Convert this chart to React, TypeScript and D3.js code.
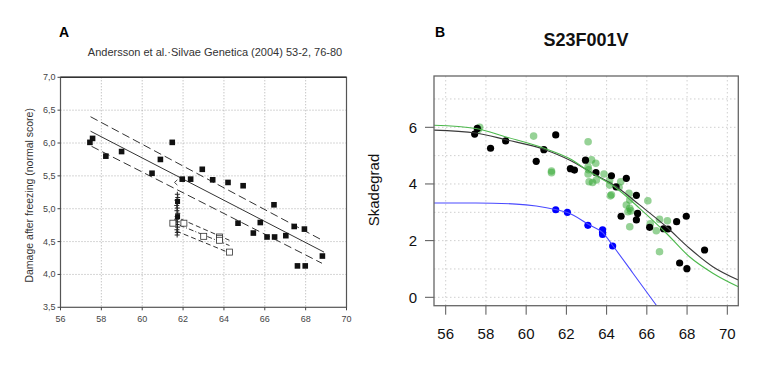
import React, { useRef, useEffect } from 'react';
import * as d3 from 'd3';

// ---- Panel A (scanned figure, Andersson et al.) ----
const aTicksX = [56, 58, 60, 62, 64, 66, 68, 70];
const aTicksY = [3.5, 4.0, 4.5, 5.0, 5.5, 6.0, 6.5, 7.0];

// filled squares
const aBlackX = [57.44, 57.57, 58.22, 58.99, 60.48, 60.89, 61.47, 61.96, 62.37, 62.94, 63.45, 64.2, 64.94,
  66.45, 64.69, 65.78, 65.44, 66.11, 66.48, 67.03, 67.44, 67.94, 68.82, 67.6, 67.98];
const aBlackY = [6.01, 6.07, 5.8, 5.87, 5.54, 5.75, 6.01, 5.45, 5.45, 5.6, 5.44, 5.4, 5.35,
  5.06, 4.78, 4.79, 4.63, 4.57, 4.57, 4.59, 4.73, 4.69, 4.28, 4.13, 4.13];

// open squares
const aOpenX = [61.5, 62.04, 63.01, 63.78, 63.78, 63.78, 64.27];
const aOpenY = [4.78, 4.78, 4.58, 4.57, 4.55, 4.52, 4.34];

// plus markers (stacked column)
const aPlusX = [61.72, 61.74, 61.7, 61.73, 61.69, 61.72, 61.7, 61.74, 61.71, 61.69, 61.72, 61.7, 61.73, 61.7, 61.72, 61.71];
const aPlusY = [5.22, 5.17, 5.13, 5.09, 5.05, 5.01, 4.97, 4.93, 4.88, 4.84, 4.8, 4.76, 4.72, 4.68, 4.64, 4.6];
const aClusterSqX = [61.73, 61.73];
const aClusterSqY = [5.11, 4.88];

// regression lines [x1, y1, x2, y2]
const aMainLines = [
  { pts: [57.47, 6.18, 68.9, 4.34], dash: '' },
  { pts: [57.47, 6.4, 68.82, 4.52], dash: '8,4' },
  { pts: [57.52, 5.95, 68.8, 4.17], dash: '8,4' },
];
const aOpenLines = [
  { pts: [61.91, 4.84, 64.27, 4.52], dash: '5,3' },
  { pts: [61.83, 4.75, 64.27, 4.44], dash: '5,2,1,2' },
  { pts: [61.67, 4.66, 64.1, 4.35], dash: '5,3' },
];

// ---- Panel B (S23F001V) ----
const bTicksX = [56, 58, 60, 62, 64, 66, 68, 70];
const bTicksY = [0, 2, 4, 6];
const bGridY = [0, 1, 2, 3, 4, 5, 6, 7];

const bBlackX = [57.44, 57.57, 58.23, 58.98, 60.5, 60.88, 61.47, 62.2, 62.4, 62.95, 63.47, 64.24, 64.98,
  64.47, 65.48, 64.72, 65.54, 65.48, 66.14, 66.83, 67.05, 67.48, 67.96, 68.87, 67.63, 67.99];
const bBlackY = [5.76, 5.96, 5.26, 5.52, 4.8, 5.21, 5.73, 4.54, 4.49, 4.84, 4.4, 4.29, 4.2,
  3.9, 3.6, 2.86, 2.96, 2.73, 2.47, 2.42, 2.41, 2.67, 2.86, 1.67, 1.21, 1.01];

const bGreenX = [57.62, 57.69, 60.37, 61.26, 61.26, 63.08, 63.25, 63.46, 63.08, 63.1, 63.08, 63.49, 63.13,
  63.3, 63.87, 64.15, 64.7, 64.15, 64.62, 65.11, 64.19, 64.24, 66.05, 65.15, 64.98, 65.15, 65.06, 65.2,
  65.15, 66.63, 67.02, 66.17, 66.47, 66.63];
const bGreenY = [5.92, 6.0, 5.69, 4.46, 4.4, 5.49, 4.85, 4.73, 4.61, 4.5, 4.35, 4.14, 4.08,
  4.05, 4.35, 4.14, 4.08, 3.96, 3.88, 3.67, 3.58, 3.62, 3.41, 3.43, 3.26, 3.14, 3.02, 3.05,
  2.49, 2.75, 2.7, 2.59, 2.35, 1.61];

const bBlueX = [61.47, 62.05, 63.07, 63.8, 63.8, 63.8, 64.3];
const bBlueY = [3.09, 3.0, 2.54, 2.38, 2.3, 2.22, 1.81];

// fitted curves
const curveBlackX = [55.42, 57.5, 59.0, 60.9, 62.2, 63.17, 64.49, 65.64, 66.97, 68.12, 69.28, 70.55];
const curveBlackY = [5.9, 5.8, 5.56, 5.22, 4.83, 4.43, 3.9, 3.26, 2.49, 1.73, 1.08, 0.61];
const curveGreenX = [55.42, 57.5, 59.0, 60.9, 62.2, 63.17, 64.49, 65.64, 66.97, 68.12, 69.28, 70.55];
const curveGreenY = [6.07, 5.96, 5.66, 5.26, 4.88, 4.42, 3.85, 3.14, 2.26, 1.43, 0.85, 0.37];
const curveBlueX = [55.42, 57.5, 59.5, 60.5, 61.5, 62.05, 63.16, 63.81, 64.32, 65.31, 66.47];
const curveBlueY = [3.33, 3.33, 3.29, 3.22, 3.09, 2.99, 2.55, 2.28, 1.81, 0.85, -0.28];

const FONT = '"Liberation Sans", Arial, sans-serif';

const App = () => {
  const svgRef = useRef<SVGSVGElement | null>(null);

  useEffect(() => {
    if (!svgRef.current) return;
    const svg = d3.select(svgRef.current);
    svg.selectAll('*').remove();

    svg.append('rect').attr('width', 768).attr('height', 371).attr('fill', '#fff');

    // ================= Panel A =================
    const xA = d3.scaleLinear().domain([56, 70]).range([60.5, 346.5]);
    const yA = d3.scaleLinear().domain([3.5, 7]).range([307.3, 77.3]);
    const gA = svg.append('g');

    // grid
    gA.selectAll('.gx').data(aTicksX.slice(1, -1)).enter().append('line')
      .attr('x1', d => xA(d)).attr('x2', d => xA(d))
      .attr('y1', yA(7)).attr('y2', yA(3.5))
      .attr('stroke', '#999').attr('stroke-width', 0.8).attr('stroke-dasharray', '1,2');
    gA.selectAll('.gy').data(aTicksY.slice(1, -1)).enter().append('line')
      .attr('x1', xA(56)).attr('x2', xA(70))
      .attr('y1', d => yA(d)).attr('y2', d => yA(d))
      .attr('stroke', '#999').attr('stroke-width', 0.8).attr('stroke-dasharray', '1,2');

    // frame
    gA.append('rect')
      .attr('x', xA(56)).attr('y', yA(7))
      .attr('width', xA(70) - xA(56)).attr('height', yA(3.5) - yA(7))
      .attr('fill', 'none').attr('stroke', '#555').attr('stroke-width', 1.2);
    gA.append('line')
      .attr('x1', xA(56)).attr('x2', xA(70)).attr('y1', yA(7)).attr('y2', yA(7))
      .attr('stroke', '#333').attr('stroke-width', 1.5);

    // ticks
    gA.selectAll('.tx').data(aTicksX).enter().append('line')
      .attr('x1', d => xA(d)).attr('x2', d => xA(d))
      .attr('y1', yA(3.5)).attr('y2', yA(3.5) + 3)
      .attr('stroke', '#444').attr('stroke-width', 1);
    gA.selectAll('.ty').data(aTicksY).enter().append('line')
      .attr('x1', xA(56) - 3).attr('x2', xA(56))
      .attr('y1', d => yA(d)).attr('y2', d => yA(d))
      .attr('stroke', '#444').attr('stroke-width', 1);

    // tick labels
    gA.selectAll('.lx').data(aTicksX).enter().append('text')
      .attr('x', d => xA(d)).attr('y', yA(3.5) + 15)
      .attr('text-anchor', 'middle').attr('font-family', FONT).attr('font-size', 9)
      .attr('fill', '#444').text(d => d);
    gA.selectAll('.ly').data(aTicksY).enter().append('text')
      .attr('x', xA(56) - 5).attr('y', d => yA(d) + 3)
      .attr('text-anchor', 'end').attr('font-family', FONT).attr('font-size', 9)
      .attr('fill', '#444').text(d => d.toFixed(1).replace('.', ','));

    // axis title
    gA.append('text')
      .attr('transform', `translate(33, ${(yA(7) + yA(3.5)) / 2 + 3}) rotate(-90)`)
      .attr('text-anchor', 'middle').attr('font-family', FONT).attr('font-size', 10.5)
      .attr('fill', '#333').text('Damage after freezing (normal score)');

    gA.append('text')
      .attr('x', 215).attr('y', 56)
      .attr('text-anchor', 'middle').attr('font-family', FONT).attr('font-size', 11)
      .attr('fill', '#333').text('Andersson et al.·Silvae Genetica (2004) 53-2, 76-80');

    gA.append('text')
      .attr('x', 59).attr('y', 37)
      .attr('font-family', FONT).attr('font-size', 14).attr('font-weight', 'bold')
      .attr('fill', '#000').text('A');

    // regression lines
    [...aMainLines, ...aOpenLines].forEach(l => {
      gA.append('line')
        .attr('x1', xA(l.pts[0])).attr('y1', yA(l.pts[1]))
        .attr('x2', xA(l.pts[2])).attr('y2', yA(l.pts[3]))
        .attr('stroke', '#333').attr('stroke-width', 1)
        .attr('stroke-dasharray', l.dash || null);
    });

    // small arrow head on the lower dashed line
    gA.append('path')
      .attr('d', `M${xA(61.72)},${yA(5.44)} L${xA(61.58)},${yA(5.4)} L${xA(61.72)},${yA(5.36)}`)
      .attr('fill', 'none').attr('stroke', '#333').attr('stroke-width', 0.9);

    // plus markers
    aPlusY.forEach((v, i) => {
      const cx = xA(aPlusX[i]);
      const cy = yA(v);
      gA.append('path')
        .attr('d', `M${cx - 2.5},${cy} H${cx + 2.5} M${cx},${cy - 2.5} V${cy + 2.5}`)
        .attr('stroke', '#222').attr('stroke-width', 1);
    });
    aClusterSqY.forEach((v, i) => {
      gA.append('rect')
        .attr('x', xA(aClusterSqX[i]) - 2.5).attr('y', yA(v) - 2.5)
        .attr('width', 5).attr('height', 5).attr('fill', '#111');
    });

    // open squares
    aOpenY.forEach((v, i) => {
      gA.append('rect')
        .attr('x', xA(aOpenX[i]) - 3).attr('y', yA(v) - 3)
        .attr('width', 6).attr('height', 6)
        .attr('fill', '#fff').attr('stroke', '#333').attr('stroke-width', 0.8);
    });

    // filled squares
    aBlackY.forEach((v, i) => {
      gA.append('rect')
        .attr('x', xA(aBlackX[i]) - 2.8).attr('y', yA(v) - 2.8)
        .attr('width', 5.6).attr('height', 5.6).attr('fill', '#111');
    });

    // ================= Panel B =================
    const xB = d3.scaleLinear().domain([56, 70]).range([445.7, 727.3]);
    const yB = d3.scaleLinear().domain([0, 6]).range([297.3, 127.3]);
    const x0 = xB.invert(434), x1 = xB.invert(738.3);
    const y0 = yB.invert(305.7), y1 = yB.invert(76);
    const gB = svg.append('g');

    svg.append('defs').append('clipPath').attr('id', 'clipB')
      .append('rect').attr('x', xB(x0)).attr('y', yB(y1))
      .attr('width', xB(x1) - xB(x0)).attr('height', yB(y0) - yB(y1));

    gB.selectAll('.gx').data(bTicksX).enter().append('line')
      .attr('x1', d => xB(d)).attr('x2', d => xB(d))
      .attr('y1', yB(y1)).attr('y2', yB(y0))
      .attr('stroke', '#cfcfcf').attr('stroke-width', 1).attr('stroke-dasharray', '1.5,2.5');
    gB.selectAll('.gy').data(bGridY).enter().append('line')
      .attr('x1', xB(x0)).attr('x2', xB(x1))
      .attr('y1', d => yB(d)).attr('y2', d => yB(d))
      .attr('stroke', '#cfcfcf').attr('stroke-width', 1).attr('stroke-dasharray', '1.5,2.5');

    // ticks
    gB.selectAll('.tx').data(bTicksX).enter().append('line')
      .attr('x1', d => xB(d)).attr('x2', d => xB(d))
      .attr('y1', yB(y0)).attr('y2', yB(y0) + 9)
      .attr('stroke', '#555').attr('stroke-width', 1);
    gB.selectAll('.ty').data(bTicksY).enter().append('line')
      .attr('x1', xB(x0) - 9).attr('x2', xB(x0))
      .attr('y1', d => yB(d)).attr('y2', d => yB(d))
      .attr('stroke', '#555').attr('stroke-width', 1);

    gB.selectAll('.lx').data(bTicksX).enter().append('text')
      .attr('x', d => xB(d)).attr('y', yB(y0) + 33)
      .attr('text-anchor', 'middle').attr('font-family', FONT).attr('font-size', 15)
      .attr('fill', '#111').text(d => d);
    gB.selectAll('.ly').data(bTicksY).enter().append('text')
      .attr('x', xB(x0) - 17).attr('y', d => yB(d) + 5.5)
      .attr('text-anchor', 'end').attr('font-family', FONT).attr('font-size', 15)
      .attr('fill', '#111').text(d => d);

    gB.append('text')
      .attr('transform', `translate(379, 190) rotate(-90)`)
      .attr('text-anchor', 'middle').attr('font-family', FONT).attr('font-size', 15)
      .attr('fill', '#111').text('Skadegrad');

    gB.append('text')
      .attr('x', 586).attr('y', 46)
      .attr('text-anchor', 'middle').attr('font-family', FONT).attr('font-size', 18)
      .attr('font-weight', 'bold').attr('fill', '#111').text('S23F001V');

    gB.append('text')
      .attr('x', 435).attr('y', 37)
      .attr('font-family', FONT).attr('font-size', 14).attr('font-weight', 'bold')
      .attr('fill', '#000').text('B');

    // curves
    const plot = gB.append('g').attr('clip-path', 'url(#clipB)');
    const line = d3.line<[number, number]>()
      .x(d => xB(d[0])).y(d => yB(d[1]))
      .curve(d3.curveMonotoneX);
    const curves = [
      { xs: curveBlueX, ys: curveBlueY, color: '#4a4aff' },
      { xs: curveBlackX, ys: curveBlackY, color: '#3a3a3a' },
      { xs: curveGreenX, ys: curveGreenY, color: '#4cb84c' },
    ];

    // points
    bGreenY.forEach((v, i) => {
      plot.append('circle')
        .attr('cx', xB(bGreenX[i])).attr('cy', yB(v)).attr('r', 3.8)
        .attr('fill', '#2ea52e').attr('fill-opacity', 0.5);
    });
    bBlackY.forEach((v, i) => {
      plot.append('circle')
        .attr('cx', xB(bBlackX[i])).attr('cy', yB(v)).attr('r', 3.6)
        .attr('fill', '#000');
    });
    bBlueY.forEach((v, i) => {
      plot.append('circle')
        .attr('cx', xB(bBlueX[i])).attr('cy', yB(v)).attr('r', 3.6)
        .attr('fill', '#0000ff');
    });

    curves.forEach(c => {
      plot.append('path')
        .attr('d', line(c.xs.map((x, i) => [x, c.ys[i]] as [number, number])))
        .attr('fill', 'none').attr('stroke', c.color).attr('stroke-width', 1.1);
    });

    // frame
    gB.append('rect')
      .attr('x', xB(x0)).attr('y', yB(y1))
      .attr('width', xB(x1) - xB(x0)).attr('height', yB(y0) - yB(y1))
      .attr('fill', 'none').attr('stroke', '#666').attr('stroke-width', 1.3);
  }, []);

  return (
    <svg ref={svgRef} width={768} height={371}
      style={{ position: 'absolute', left: 0, top: 0, display: 'block' }} />
  );
};

export default App;
